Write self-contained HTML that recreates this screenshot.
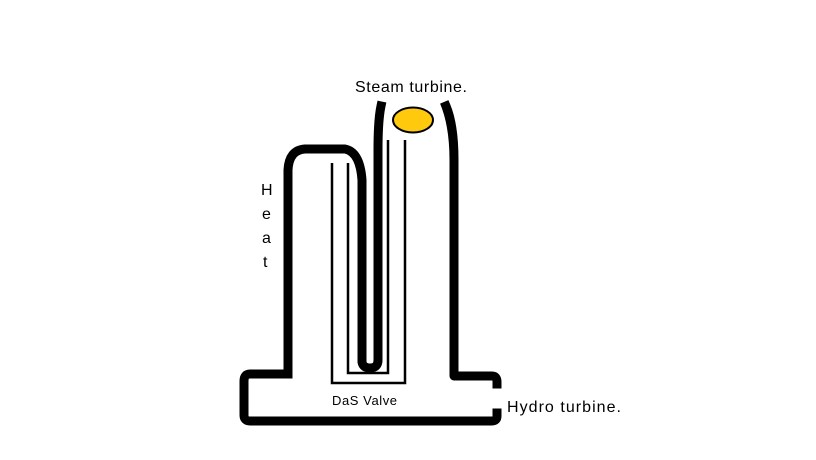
<!DOCTYPE html>
<html><head><meta charset="utf-8"><style>
html,body{margin:0;padding:0;background:#fff;}
svg{display:block}
text{font-family:"Liberation Sans",sans-serif;fill:#000;letter-spacing:0}
</style></head><body>
<svg width="816" height="460" viewBox="0 0 816 460" xmlns="http://www.w3.org/2000/svg">
<g fill="none" stroke="#000" stroke-width="9" stroke-linejoin="round" stroke-linecap="square">
<path d="M288,374 L288,170 Q289,150 305,149 L345,149 Q360,152 362,180 L362,362 Q363,368 370,368 Q378,368 378,360 L378,150 Q378,120 381,106"/>
<path d="M446,106 Q454,125 454,160 L454,376 L492,376 Q497,376 497,382 L497,384"/>
<path d="M288,374 L250,374 Q244,374 244,381 L244,415 Q244,421 250,421 L492,421 Q497,421 497,416 L497,413"/>
</g>
<g fill="none" stroke="#000" stroke-width="2.5">
<path d="M332,163 L332,383 L405,383 L405,140"/>
<path d="M348,163 L348,373 L388,373 L388,140"/>
</g>
<ellipse cx="413" cy="120" rx="20" ry="12.5" fill="#ffc90e" stroke="#000" stroke-width="2"/>
<text x="355" y="92" font-size="16" textLength="112">Steam turbine.</text>
<text x="261" y="195" font-size="16">H</text>
<text x="262" y="219" font-size="16">e</text>
<text x="262" y="243" font-size="16">a</text>
<text x="263" y="267" font-size="16">t</text>
<text x="332" y="405" font-size="13" textLength="65">DaS Valve</text>
<text x="507" y="412" font-size="16" textLength="114">Hydro turbine.</text>
</svg>
</body></html>
